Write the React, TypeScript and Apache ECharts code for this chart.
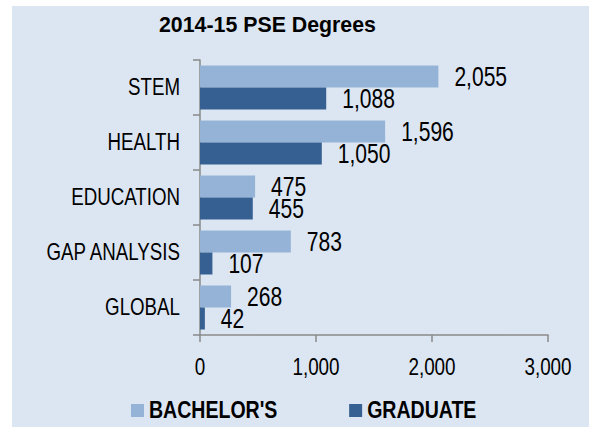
import React, { useEffect, useRef } from "react";
import * as echarts from "echarts";

const chartTitle = "2014-15 PSE Degrees";
const categories = ["STEM", "HEALTH", "EDUCATION", "GAP ANALYSIS", "GLOBAL"];
const seriesNames = ["BACHELOR'S", "GRADUATE"];
const bachelors = [2055, 1596, 475, 783, 268];
const graduate = [1088, 1050, 455, 107, 42];
const xTicks = [0, 1000, 2000, 3000];

const fmt = (v: number) => v.toLocaleString("en-US");
const xTickLabels = xTicks.map(fmt);

// horizontal squeeze per text kind, to mimic the narrow typeface of the original
const squeezeFor = (t: string): number => {
  if (t === chartTitle) return 0.97;
  if (seriesNames.includes(t)) return 0.85;
  if (categories.includes(t)) return 0.78;
  if (xTickLabels.includes(t)) return 0.82;
  return 0.78;
};

export default function App() {
  const ref = useRef<HTMLDivElement>(null);
  useEffect(() => {
    document.body.style.margin = "0";
    const el = ref.current!;
    const chart = echarts.init(el, null, { renderer: "svg" });
    const font = "'Liberation Sans', Arial, sans-serif";
    const axisColor = "#8a8a8a";
    const labelStyle = (size: number) => ({
      show: true,
      position: "right",
      distance: 16,
      fontFamily: font,
      fontSize: size,
      lineHeight: 22,
      color: "#000",
      formatter: (p: any) => fmt(p.value),
    });
    chart.setOption({
      animation: false,
      backgroundColor: "#dce6f2",
      title: {
        text: chartTitle,
        left: 147,
        top: 7,
        padding: 0,
        textStyle: { fontFamily: font, fontWeight: "bold", fontSize: 22, color: "#000" },
      },
      legend: {
        data: seriesNames,
        left: 119,
        top: 393,
        padding: 0,
        icon: "rect",
        itemWidth: 13,
        itemHeight: 13,
        itemGap: 49,
        textStyle: { fontFamily: font, fontWeight: "bold", fontSize: 23, color: "#000" },
      },
      grid: {
        left: 188,
        top: 54,
        right: 41,
        bottom: 92,
        containLabel: false,
        outerBoundsMode: "none",
      },
      xAxis: {
        type: "value",
        min: xTicks[0],
        max: xTicks[xTicks.length - 1],
        interval: xTicks[1] - xTicks[0],
        axisLine: { show: true, lineStyle: { color: axisColor, width: 1.5 } },
        axisTick: { show: true, length: 7, lineStyle: { color: axisColor, width: 1.5 } },
        splitLine: { show: false },
        axisLabel: {
          margin: 20,
          fontFamily: font,
          fontSize: 23,
          color: "#000",
          formatter: (v: number) => fmt(v),
        },
      },
      yAxis: {
        type: "category",
        data: categories,
        inverse: true,
        axisLine: { show: true, lineStyle: { color: axisColor, width: 1.5 } },
        axisTick: { show: true, length: 7, lineStyle: { color: axisColor, width: 1.5 } },
        axisLabel: { margin: 20, fontFamily: font, fontSize: 24, color: "#000" },
      },
      series: [
        {
          name: seriesNames[0],
          type: "bar",
          data: bachelors,
          barWidth: 22,
          barGap: "0%",
          itemStyle: { color: "#95b3d7" },
          label: labelStyle(27),
        },
        {
          name: seriesNames[1],
          type: "bar",
          data: graduate,
          barWidth: 22,
          barGap: "0%",
          itemStyle: { color: "#366092" },
          label: labelStyle(27),
        },
      ],
    });

    const squeeze = () => {
      const texts = el.querySelectorAll("svg text");
      texts.forEach((node) => {
        const t = node as SVGTextElement;
        const cur = t.getAttribute("transform") || "";
        if ((t as any).dataset && (t as any).dataset.sq && (t as any).dataset.sq === cur) return;
        const s = squeezeFor((t.textContent || "").trim());
        const x = parseFloat(t.getAttribute("x") || "0") || 0;
        const y = parseFloat(t.getAttribute("y") || "0") || 0;
        let ax = x;
        let ay = y;
        try {
          const c = t.transform.baseVal.consolidate();
          if (c) {
            const m = c.matrix;
            ax = m.a * x + m.c * y + m.e;
            ay = m.b * x + m.d * y + m.f;
          }
        } catch (e) {}
        const nt = `translate(${ax} ${ay}) scale(${s} 1) translate(${-ax} ${-ay}) ${cur}`.trim();
        t.setAttribute("transform", nt);
        (t as any).dataset.sq = nt;
      });
    };
    squeeze();
    chart.on("finished", squeeze);
    const timer = setTimeout(squeeze, 50);
    return () => {
      clearTimeout(timer);
      chart.dispose();
    };
  }, []);
  return (
    <div style={{ position: "relative", width: 589, height: 427, background: "#fff" }}>
      <div ref={ref} style={{ position: "absolute", left: 12, top: 6, width: 577, height: 421 }} />
    </div>
  );
}
